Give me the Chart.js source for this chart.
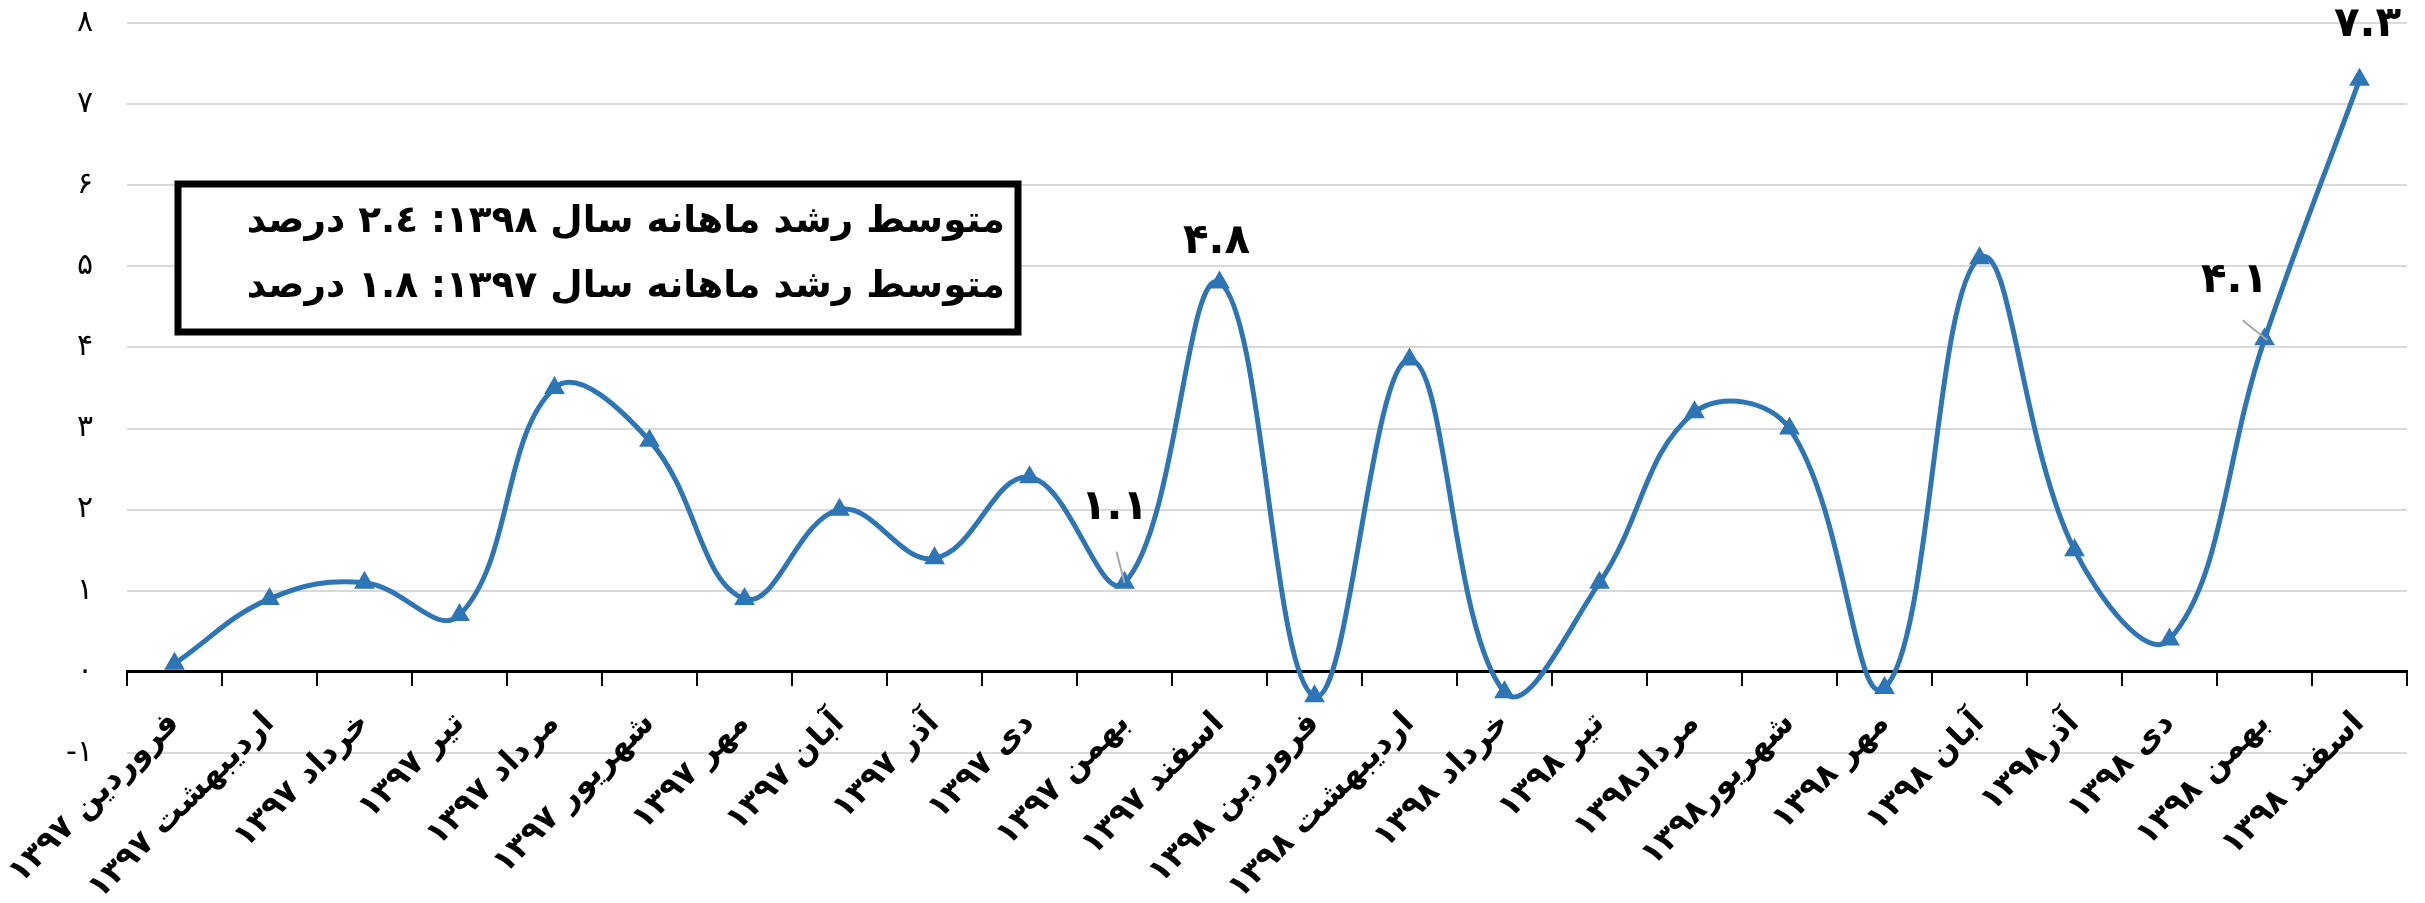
<!DOCTYPE html>
<html lang="fa">
<head>
<meta charset="utf-8">
<title>رشد ماهانه ۱۳۹۷ - ۱۳۹۸</title>
<script src="https://cdn.jsdelivr.net/npm/chart.js@4/dist/chart.umd.min.js"></script>
<style>
  html, body { margin: 0; padding: 0; background: #fff; }
  #wrap { width: 2425px; height: 903px; position: relative; }
</style>
</head>
<body>
<div id="wrap"><canvas id="growth"></canvas></div>
<script>
// monthly growth, farvardin 1397 .. esfand 1398
const categories = [
  'فروردین ۱۳۹۷', 'اردیبهشت ۱۳۹۷', 'خرداد ۱۳۹۷', 'تیر ۱۳۹۷', 'مرداد ۱۳۹۷', 'شهریور ۱۳۹۷',
  'مهر ۱۳۹۷', 'آبان ۱۳۹۷', 'آذر ۱۳۹۷', 'دی ۱۳۹۷', 'بهمن ۱۳۹۷', 'اسفند ۱۳۹۷',
  'فروردین ۱۳۹۸', 'اردیبهشت ۱۳۹۸', 'خرداد ۱۳۹۸', 'تیر ۱۳۹۸', 'مرداد۱۳۹۸', 'شهریور۱۳۹۸',
  'مهر ۱۳۹۸', 'آبان ۱۳۹۸', 'آذر۱۳۹۸', 'دی ۱۳۹۸', 'بهمن ۱۳۹۸', 'اسفند ۱۳۹۸'
];

const growth = [
  0.1, 0.9, 1.1, 0.7, 3.5, 2.85, 0.9, 2.0, 1.4, 2.4, 1.1, 4.8,
  -0.3, 3.85, -0.25, 1.1, 3.2, 3.0, -0.2, 5.1, 1.5, 0.4, 4.1, 7.3
];

// only four points carry a value label
const valueLabels = [
  null, null, null, null, null, null, null, null, null, null, '۱.۱', '۴.۸',
  null, null, null, null, null, null, null, null, null, null, '۴.۱', '۷.۳'
];

const yTicks = { min: -1, max: 8, step: 1 };

const noteLines = [
  'متوسط رشد ماهانه سال ۱۳۹۸: ٢.٤ درصد',
  'متوسط رشد ماهانه سال ۱۳۹۷: ۱.۸ درصد'
];

const FONT = "'DejaVu Sans', 'Noto Sans', sans-serif";
const BLUE = '#2E75B6';

function toFa(n) {
  const digits = '۰۱۲۳۴۵۶۷۸۹';
  const s = String(Math.abs(n)).replace(/[0-9]/g, d => digits[d]);
  return n < 0 ? '\u200E-' + s : s;
}

// value labels: offsets from the point, plus optional leader line
const labelPlugin = {
  id: 'valueLabels',
  afterDatasetsDraw(chart) {
    const meta = chart.getDatasetMeta(0);
    const place = {
      10: { dx: -10, dy: -75, lead: [[-8, -31], [0, 0]] },
      11: { dx: -3, dy: -40 },
      22: { dx: -30, dy: -58, lead: [[-22, -19], [3, 1]] },
      23: { dx: 8, dy: -55 }
    };
    const ctx = chart.ctx;
    ctx.save();
    ctx.font = 'bold 42px ' + FONT;
    ctx.textAlign = 'center';
    ctx.textBaseline = 'middle';
    valueLabels.forEach((txt, i) => {
      if (!txt) return;
      const pt = meta.data[i];
      const p = place[i] || { dx: 0, dy: -45 };
      if (p.lead) {
        ctx.strokeStyle = '#a6a6a6';
        ctx.lineWidth = 2;
        ctx.beginPath();
        ctx.moveTo(pt.x + p.lead[0][0], pt.y + p.lead[0][1]);
        ctx.lineTo(pt.x + p.lead[1][0], pt.y + p.lead[1][1]);
        ctx.stroke();
      }
      ctx.fillStyle = '#000';
      ctx.fillText(txt, pt.x + p.dx, pt.y + p.dy);
    });
    ctx.restore();
  }
};

// framed note in the upper left
const notePlugin = {
  id: 'noteBox',
  afterDraw(chart) {
    const ctx = chart.ctx;
    const box = { left: 178, top: 184, right: 1018, bottom: 332 };
    ctx.save();
    ctx.fillStyle = '#fff';
    ctx.fillRect(box.left, box.top, box.right - box.left, box.bottom - box.top);
    ctx.strokeStyle = '#000';
    ctx.lineWidth = 7;
    ctx.strokeRect(box.left, box.top, box.right - box.left, box.bottom - box.top);

    // size the font so the first line fills the box like the original
    let size = 40;
    ctx.font = 'bold ' + size + 'px ' + FONT;
    const w = ctx.measureText(noteLines[0]).width;
    size = Math.min(44, size * 758 / w);
    ctx.font = 'bold ' + size.toFixed(1) + 'px ' + FONT;
    ctx.fillStyle = '#000';
    ctx.textAlign = 'right';
    ctx.textBaseline = 'middle';
    ctx.fillText(noteLines[0], 1005, 222);
    ctx.fillText(noteLines[1], 1005, 287);
    ctx.restore();
  }
};

new Chart(document.getElementById('growth'), {
  type: 'line',
  data: {
    labels: categories,
    datasets: [{
      data: growth,
      borderColor: BLUE,
      borderWidth: 5,
      tension: 0.4,
      fill: false,
      pointStyle: 'triangle',
      pointRadius: 12,
      pointBackgroundColor: BLUE,
      pointBorderColor: BLUE,
      pointBorderWidth: 0
    }]
  },
  options: {
    responsive: true,
    maintainAspectRatio: false,
    animation: false,
    events: [],
    layout: {
      // x axis sits on the zero line, so its labels live in this bottom band
      padding: { top: 23, right: 18, bottom: 150, left: 0 }
    },
    plugins: {
      legend: { display: false },
      tooltip: { enabled: false }
    },
    scales: {
      x: {
        type: 'category',
        position: { y: 0 },
        offset: true,
        grid: {
          display: true,
          drawOnChartArea: false,
          drawTicks: true,
          tickLength: 13,
          color: '#000',
          lineWidth: 2,
          offset: true
        },
        border: { display: true, color: '#000', width: 3 },
        ticks: {
          autoSkip: false,
          maxRotation: 45,
          minRotation: 45,
          padding: 20,
          color: '#000',
          font: { family: FONT, weight: 'bold', size: 32 }
        },
        afterFit(scale) {
          scale.height = 0;
          scale.paddingLeft = 0;
          scale.paddingRight = 0;
          scale.paddingTop = 0;
          scale.paddingBottom = 0;
        }
      },
      y: {
        min: yTicks.min,
        max: yTicks.max,
        ticks: {
          stepSize: yTicks.step,
          padding: 34,
          color: '#000',
          font: { family: FONT, size: 30 },
          callback: v => toFa(v)
        },
        grid: { color: '#d9d9d9', lineWidth: 2, drawTicks: false },
        border: { display: false },
        afterFit(scale) {
          scale.width = 127;
          scale.paddingTop = 0;
          scale.paddingBottom = 0;
        }
      }
    }
  },
  plugins: [labelPlugin, notePlugin]
});
</script>
</body>
</html>
